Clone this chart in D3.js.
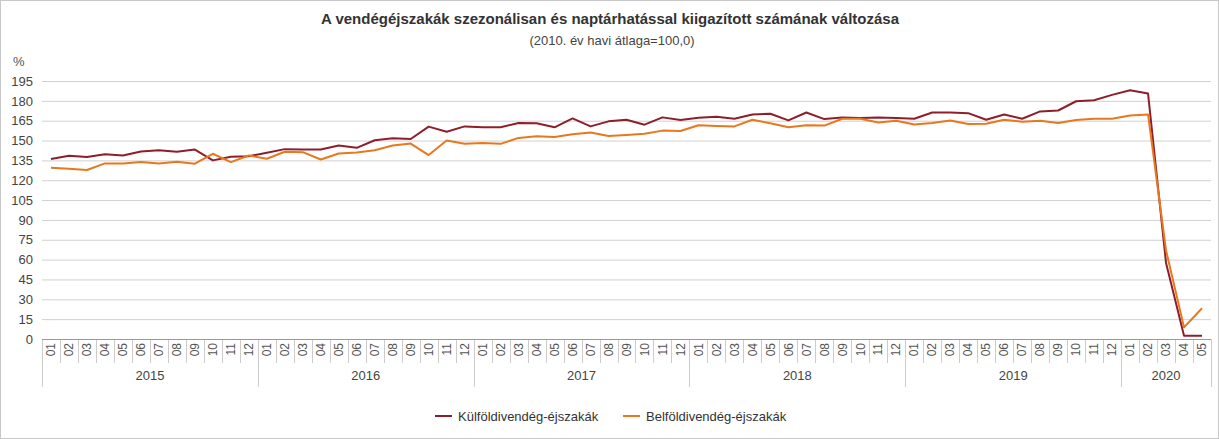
<!DOCTYPE html>
<html>
<head>
<meta charset="utf-8">
<script src="https://cdn.jsdelivr.net/npm/d3@7"></script>
<style>
  body { margin: 0; background: #fff; }
  svg { display: block; font-family: "Liberation Sans", Arial, sans-serif; }
</style>
</head>
<body>
<div id="chart"></div>
<script>
// Years and the months shown for each of them
var years = ["2015", "2016", "2017", "2018", "2019", "2020"];
var monthsPerYear = [12, 12, 12, 12, 12, 5];
var monthLabels = ["01","02","03","04","05","06","07","08","09","10","11","12"];

// Külföldivendég-éjszakák (foreign guest nights), 2015-01 .. 2020-05
var kulfoldi = [
  136, 138.5, 137.5, 139.7, 138.7, 141.7, 142.7, 141.5, 143.2, 135, 137.7, 138.2,
  140.7, 143.5, 143.2, 143.2, 146.2, 144.5, 150.2, 151.7, 151.2, 160.5, 156.7, 160.7,
  160, 160, 163.2, 163, 160, 166.7, 160.7, 164.5, 165.7, 162, 167.5, 165.5,
  167.2, 168, 166.5, 169.7, 170.2, 165.2, 171.2, 166.2, 167.5, 167, 167.5, 167,
  166.5, 171.2, 171.2, 170.7, 165.7, 169.7, 166.5, 172, 172.7, 179.7, 180.5, 184.5,
  188, 185.5, 57.5, 2.5, 2.5
];

// Belföldivendég-éjszakák (domestic guest nights)
var belfoldi = [
  129.5, 128.7, 127.7, 132.7, 132.7, 133.7, 132.7, 134, 132.5, 140, 133.7, 138.7,
  136.2, 141.5, 141.2, 135.7, 140.2, 141, 142.7, 146.2, 147.7, 139, 150, 147.5,
  148.2, 147.5, 152, 153.2, 152.7, 154.7, 156, 153.5, 154.2, 155.2, 157.5, 157.2,
  161.5, 161, 160.7, 165.7, 163, 160, 161.5, 161.3, 166.5, 166.5, 163.7, 165,
  162.2, 163.2, 165.2, 162.5, 162.7, 165.7, 164.2, 165, 163.2, 165.5, 166.5, 166.5,
  169, 169.7, 67, 8.8, 23.2
];

var yTicks = [0, 15, 30, 45, 60, 75, 90, 105, 120, 135, 150, 165, 180, 195];

var series = [
  { name: "Külföldivendég-éjszakák", values: kulfoldi, color: "#8e1f2a" },
  { name: "Belföldivendég-éjszakák", values: belfoldi, color: "#e8781e" }
];

// build the month list from the years
var periods = [];
years.forEach(function(yr, yi){
  d3.range(monthsPerYear[yi]).forEach(function(m){
    periods.push({ key: yr + "-" + monthLabels[m], year: yr, month: monthLabels[m] });
  });
});

const width = 1219;
const height = 439;
const plotLeft = 42, plotRight = 1211, plotTop = 81, plotBottom = 339;

var svg = d3.select("#chart")
  .append("svg")
  .attr("width", width)
  .attr("height", height);

// outer frame
svg.append("rect")
  .attr("x", 0.5).attr("y", 0.5)
  .attr("width", width - 1).attr("height", height - 1)
  .attr("fill", "#fff")
  .attr("stroke", "#c8c8c8");

var x = d3.scaleBand()
  .domain(periods.map(function(d){ return d.key; }))
  .range([plotLeft, plotRight]);

var y = d3.scaleLinear()
  .domain([0, 195])
  .range([plotBottom, plotTop]);

// titles
svg.append("text")
  .attr("x", 610).attr("y", 24)
  .attr("text-anchor", "middle")
  .attr("font-size", 15).attr("font-weight", "bold")
  .attr("fill", "#333")
  .text("A vendégéjszakák szezonálisan és naptárhatással kiigazított számának változása");

svg.append("text")
  .attr("x", 612).attr("y", 45)
  .attr("text-anchor", "middle")
  .attr("font-size", 13)
  .attr("fill", "#444")
  .text("(2010. év havi átlaga=100,0)");

svg.append("text")
  .attr("x", 13).attr("y", 66)
  .attr("font-size", 13)
  .attr("fill", "#555")
  .text("%");

// y gridlines and labels
var yAxis = svg.append("g")
  .attr("transform", "translate(" + plotLeft + ",0)")
  .call(d3.axisLeft(y).tickValues(yTicks).tickSize(-(plotRight - plotLeft)).tickPadding(9));
yAxis.select(".domain").remove();
yAxis.selectAll(".tick line").attr("stroke", "#d0d0d0");
yAxis.selectAll(".tick text")
  .attr("font-size", 13)
  .attr("font-family", "Liberation Sans, Arial, sans-serif")
  .attr("fill", "#444");
yAxis.selectAll(".tick").filter(function(d){ return d === 0; }).select("line").remove();

// x axis: month labels + separators
var xAxis = svg.append("g");
xAxis.selectAll("line.msep")
  .data(periods)
  .enter().append("line")
  .attr("class", "msep")
  .attr("x1", function(d){ return Math.round(x(d.key)) + 0.5; })
  .attr("x2", function(d){ return Math.round(x(d.key)) + 0.5; })
  .attr("y1", plotBottom)
  .attr("y2", function(d){ return d.month === "01" ? 387 : 363; })
  .attr("stroke", "#ccc");
xAxis.append("line")
  .attr("x1", Math.round(plotRight) + 0.5).attr("x2", Math.round(plotRight) + 0.5)
  .attr("y1", plotBottom).attr("y2", 387)
  .attr("stroke", "#ccc");

xAxis.selectAll("text.month")
  .data(periods)
  .enter().append("text")
  .attr("class", "month")
  .attr("transform", function(d){
    return "translate(" + (x(d.key) + x.bandwidth() / 2) + ",343) rotate(-90)";
  })
  .attr("text-anchor", "end")
  .attr("dy", "0.35em")
  .attr("font-size", 12)
  .attr("fill", "#555")
  .text(function(d){ return d.month; });

// year labels
var yearStart = 0;
years.forEach(function(yr, yi){
  var first = periods[yearStart].key;
  var last = periods[yearStart + monthsPerYear[yi] - 1].key;
  var cx = (x(first) + x(last) + x.bandwidth()) / 2;
  xAxis.append("text")
    .attr("x", cx).attr("y", 380)
    .attr("text-anchor", "middle")
    .attr("font-size", 13)
    .attr("fill", "#444")
    .text(yr);
  yearStart += monthsPerYear[yi];
});

// baseline
svg.append("line")
  .attr("x1", plotLeft).attr("x2", plotRight)
  .attr("y1", plotBottom + 0.5).attr("y2", plotBottom + 0.5)
  .attr("stroke", "#999");

// series lines
var line = d3.line()
  .x(function(d, i){ return x(periods[i].key) + x.bandwidth() / 2; })
  .y(function(d){ return y(d); });

svg.selectAll("path.series")
  .data(series)
  .enter().append("path")
  .attr("class", "series")
  .attr("d", function(s){ return line(s.values); })
  .attr("fill", "none")
  .attr("stroke", function(s){ return s.color; })
  .attr("stroke-width", 2)
  .attr("stroke-linejoin", "round");

// legend
var legendX = [435, 623];
var legend = svg.selectAll("g.legend")
  .data(series)
  .enter().append("g")
  .attr("class", "legend")
  .attr("transform", function(s, i){ return "translate(" + legendX[i] + ",416)"; });
legend.append("line")
  .attr("x1", 0).attr("x2", 17)
  .attr("stroke", function(s){ return s.color; })
  .attr("stroke-width", 2);
legend.append("text")
  .attr("x", 23).attr("y", 4.5)
  .attr("font-size", 13)
  .attr("fill", "#333")
  .text(function(s){ return s.name; });
</script>
</body>
</html>
